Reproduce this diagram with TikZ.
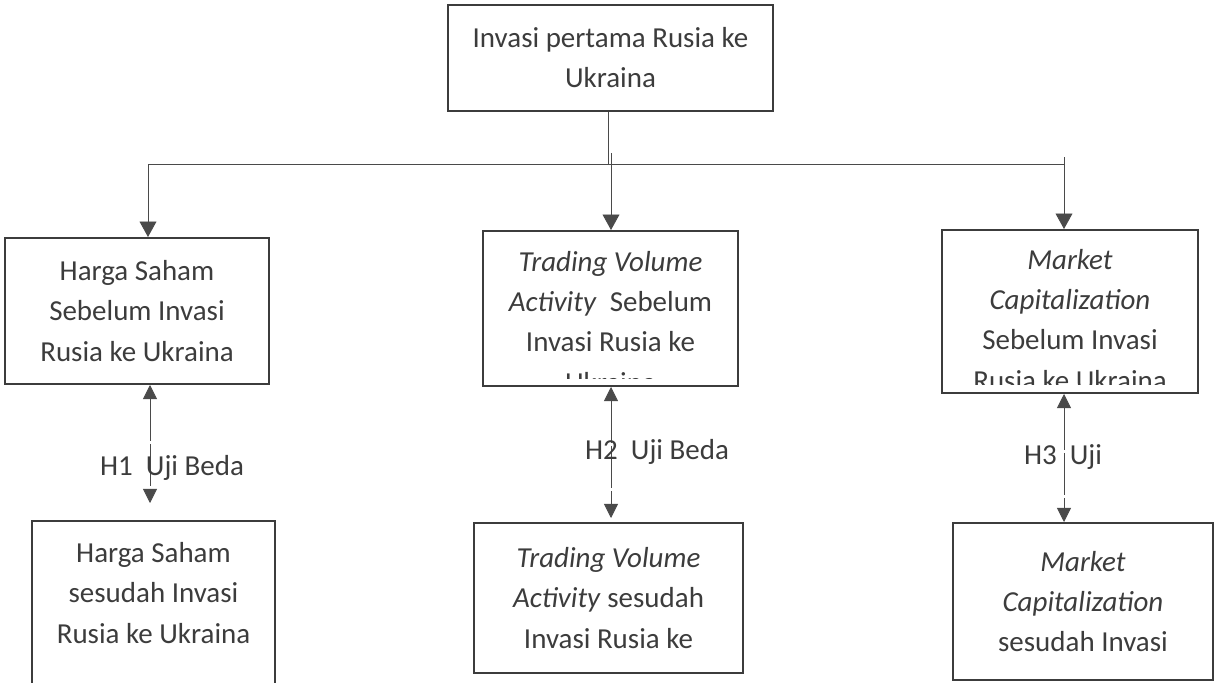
\documentclass[tikz,border=0pt]{standalone}
\usepackage{fontspec}
\setmainfont{Carlito}
\usetikzlibrary{arrows.meta}
\definecolor{ink}{HTML}{3c3c3c}
\definecolor{rule}{HTML}{4a4a4a}
\tikzset{
  box/.style={draw=ink, line width=1.4pt, inner sep=0pt},
  txt/.style={text=ink, align=center, font=\fontsize{20.6}{28.5}\selectfont, inner sep=0pt},
  conn/.style={draw=rule, line width=0.6pt},
  arr/.style={conn, -{Triangle[length=11pt,width=12pt]}},
  twoway/.style={conn, {Triangle[length=10pt,width=10pt]}-{Triangle[length=10pt,width=10pt]}, dash pattern=on 30pt off 2pt},
}
\begin{document}
\begin{tikzpicture}[x=0.025cm, y=-0.025cm]
  \path[use as bounding box, clip] (0,0) rectangle (1218,683);
  % kotak atas
  \node[box, txt, minimum width=8.125cm, minimum height=2.65cm] (inv) at (610.5,58) {Invasi pertama Rusia ke\\Ukraina};
  % sebelum invasi
  \node[box, txt, minimum width=6.6cm, minimum height=3.65cm] (hs1) at (137,311) {Harga Saham\\Sebelum Invasi\\Rusia ke Ukraina};
  \node[box, minimum width=6.375cm, minimum height=3.875cm] (tv1) at (610.5,308.5) {};
  \node[box, minimum width=6.4cm, minimum height=4.075cm] (mc1) at (1070,311.5) {};
  \begin{scope}
    \clip (tv1.north west) rectangle ([yshift=0.22cm]tv1.south east);
    \node[txt] (tv1t) at (610.5,322) {\textit{Trading Volume}\\\textit{Activity}\ \ Sebelum\\Invasi Rusia ke\\Ukraina};
  \end{scope}
  \begin{scope}
    \clip (mc1.north west) rectangle ([yshift=0.25cm]mc1.south east);
    \node[txt] (mc1t) at (1070,320) {\textit{Market}\\\textit{Capitalization}\\Sebelum Invasi\\Rusia ke Ukraina};
  \end{scope}
  % sesudah invasi
  \node[box, minimum width=6.075cm, minimum height=5cm, anchor=north] (hs2) at (153.5,520) {};
  \node[txt] (hs2t) at (153.5,593) {Harga Saham\\sesudah Invasi\\Rusia ke Ukraina};
  \node[box, txt, minimum width=6.725cm, minimum height=3.75cm] (tv2) at (608.5,598) {\textit{Trading Volume}\\\textit{Activity} sesudah\\Invasi Rusia ke};
  \node[box, txt, minimum width=6.5cm, minimum height=3.925cm] (mc2) at (1083,601.5) {\textit{Market}\\\textit{Capitalization}\\sesudah Invasi};
  % garis cabang
  \coordinate (hub) at (608,164);
  \coordinate (jl) at (148,164);
  \coordinate (jm) at (611,153);
  \coordinate (jr) at (1064,157);
  \draw[conn] (inv.south -| hub) -- (hub);
  \draw[conn] (jl) -- (jr |- hub);
  \draw[arr] (jl) -- (jl |- hs1.north);
  \draw[arr] (jm) -- (jm |- tv1.north);
  \draw[arr] (jr) -- (jr |- mc1.north);
  % uji beda
  \coordinate (h1end) at (150,503);
  \coordinate (h2end) at (611,518);
  \draw[twoway] (hs1.south -| h1end) -- (h1end);
  \draw[twoway] (tv1.south -| h2end) -- (h2end);
  \draw[twoway] (mc1.south -| jr) -- (mc2.north -| jr);
  \node[txt] (h1) at (172,468) {H1~~Uji Beda};
  \node[txt] (h2) at (657,452) {H2~~Uji Beda};
  \node[txt] (h3) at (1063,457) {H3~~Uji};
\end{tikzpicture}
\end{document}
